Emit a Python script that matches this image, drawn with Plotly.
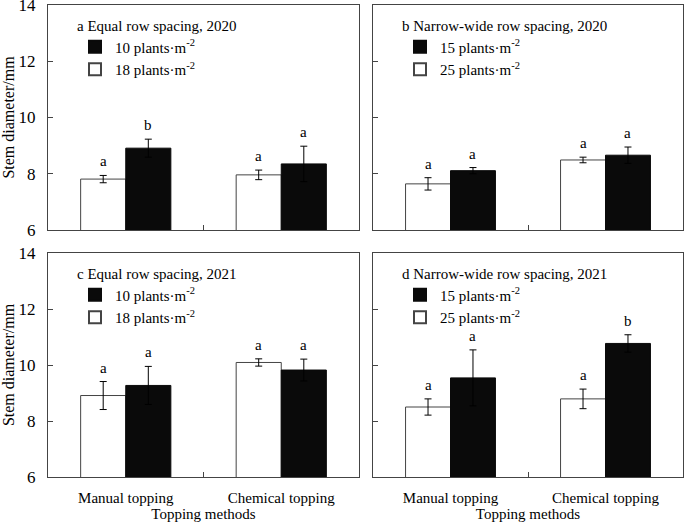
import plotly.graph_objects as go

methods = ["Manual topping", "Chemical topping"]

panel_titles = ["a Equal row spacing, 2020", "b Narrow-wide row spacing, 2020",
                "c Equal row spacing, 2021", "d Narrow-wide row spacing, 2021"]
low_density_names = ["10 plants·m<sup>-2</sup>", "15 plants·m<sup>-2</sup>",
                     "10 plants·m<sup>-2</sup>", "15 plants·m<sup>-2</sup>"]
high_density_names = ["18 plants·m<sup>-2</sup>", "25 plants·m<sup>-2</sup>",
                      "18 plants·m<sup>-2</sup>", "25 plants·m<sup>-2</sup>"]

# high density (white bars)
high_a = [7.81, 7.96]
high_a_err = [0.13, 0.17]
high_a_sig = ["a", "a"]
high_b = [7.64, 8.49]
high_b_err = [0.22, 0.10]
high_b_sig = ["a", "a"]
high_c = [8.91, 10.09]
high_c_err = [0.50, 0.13]
high_c_sig = ["a", "a"]
high_d = [8.50, 8.79]
high_d_err = [0.29, 0.35]
high_d_sig = ["a", "a"]

# low density (black bars)
low_a = [8.91, 8.35]
low_a_err = [0.32, 0.63]
low_a_sig = ["b", "a"]
low_b = [8.11, 8.66]
low_b_err = [0.11, 0.29]
low_b_sig = ["a", "a"]
low_c = [9.27, 9.82]
low_c_err = [0.68, 0.39]
low_c_sig = ["a", "a"]
low_d = [9.54, 10.77]
low_d_err = [1.00, 0.31]
low_d_sig = ["a", "b"]

y_ticks = [6, 8, 10, 12, 14]

panels = [
    (high_a, high_a_err, high_a_sig, low_a, low_a_err, low_a_sig),
    (high_b, high_b_err, high_b_sig, low_b, low_b_err, low_b_sig),
    (high_c, high_c_err, high_c_sig, low_c, low_c_err, low_c_sig),
    (high_d, high_d_err, high_d_sig, low_d, low_d_err, low_d_sig),
]

W, H = 685, 523
FONT = "Liberation Serif"
LINE = "#444444"

# pixel boxes (left, right, top, bottom)
boxes = [(48, 359, 5, 230), (373, 683, 5, 230), (48, 359, 253, 477), (373, 683, 253, 477)]

fig = go.Figure()
annotations = []
layout = {}
bar_w = 0.29

for i, (hv, he, hs, lv, le, ls) in enumerate(panels):
    n = i + 1
    xa = "x" if n == 1 else f"x{n}"
    ya = "y" if n == 1 else f"y{n}"
    lg = "legend" if n == 1 else f"legend{n}"
    fig.add_trace(go.Bar(
        x=methods, y=hv, name=high_density_names[i], xaxis=xa, yaxis=ya, legend=lg,
        marker=dict(color="white", line=dict(color=LINE, width=1)),
        error_y=dict(type="data", array=he, color="black", thickness=1, width=3.5),
        offsetgroup="1", width=bar_w,
    ))
    fig.add_trace(go.Bar(
        x=methods, y=lv, name=low_density_names[i], xaxis=xa, yaxis=ya, legend=lg,
        marker=dict(color="#0a0a0a", line=dict(color="#0a0a0a", width=1)),
        error_y=dict(type="data", array=le, color="black", thickness=1, width=3.5),
        offsetgroup="2", width=bar_w,
    ))
    for j in range(2):
        annotations.append(dict(x=j - bar_w / 2, y=hv[j] + he[j], xref=xa, yref=ya,
                                text=hs[j], showarrow=False, yanchor="bottom", yshift=4,
                                font=dict(family=FONT, size=15, color="black")))
        annotations.append(dict(x=j + bar_w / 2, y=lv[j] + le[j], xref=xa, yref=ya,
                                text=ls[j], showarrow=False, yanchor="bottom", yshift=4,
                                font=dict(family=FONT, size=15, color="black")))
    l, r, t, b = boxes[i]
    bottom_row = n >= 3
    left_col = n % 2 == 1
    axis_common = dict(showline=True, linecolor=LINE, linewidth=1, mirror=True,
                       ticks="inside", ticklen=5, tickcolor=LINE, showgrid=False,
                       zeroline=False, automargin=False, ticklabeloverflow="allow")
    layout["xaxis" if n == 1 else f"xaxis{n}"] = dict(
        axis_common, domain=[l / W, r / W], anchor=ya, type="category",
        tickson="boundaries", showticklabels=bottom_row,
        range=[-0.5, 1.5], ticklabelstandoff=7,
        tickfont=dict(family=FONT, size=15, color="black"),
        title=dict(text="Topping methods" if bottom_row else "", standoff=0,
                   font=dict(family=FONT, size=15, color="black")),
    )
    layout["yaxis" if n == 1 else f"yaxis{n}"] = dict(
        axis_common, domain=[1 - b / H, 1 - t / H], anchor=xa, range=[6, 14],
        tickvals=y_ticks, showticklabels=left_col, ticklabelstandoff=8,
        tickfont=dict(family=FONT, size=17, color="black"),
        title=dict(text="Stem diameter/mm" if left_col else "", standoff=11,
                   font=dict(family=FONT, size=16, color="black")),
    )
    layout[lg] = dict(
        x=(l + 27) / W, y=1 - (t + 6) / H, xanchor="left", yanchor="top",
        traceorder="reversed", bgcolor="rgba(0,0,0,0)",
        font=dict(family=FONT, size=15, color="black"),
        title=dict(text=panel_titles[i], side="top",
                   font=dict(family=FONT, size=15, color="black")),
        tracegroupgap=0, itemsizing="constant",
    )

fig.update_layout(
    width=W, height=H, margin=dict(l=0, r=0, t=0, b=0, autoexpand=False),
    paper_bgcolor="white", plot_bgcolor="white",
    barmode="group", bargap=0.42, bargroupgap=0,
    annotations=annotations, showlegend=True,
    font=dict(family=FONT, size=15, color="black"),
    **layout,
)

fig.write_html("out.html", config={"displayModeBar": False},
               post_script="document.body.style.margin='0';")
